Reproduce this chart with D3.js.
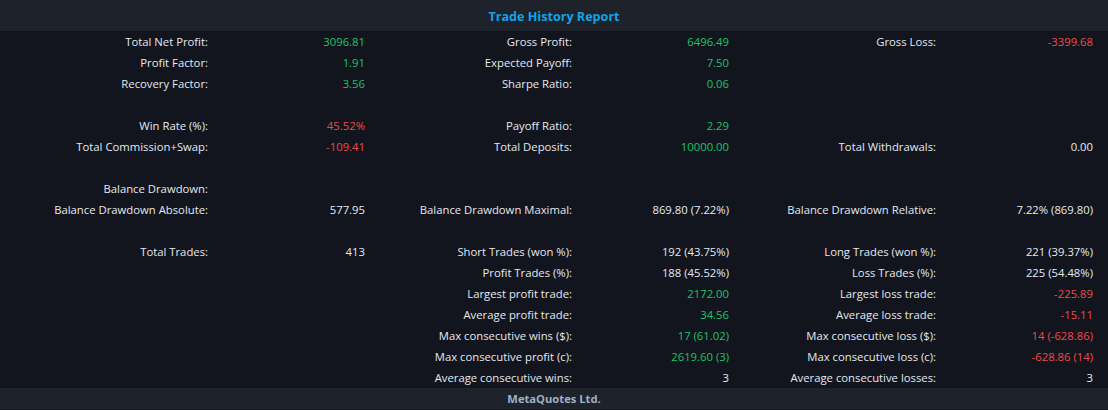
<!DOCTYPE html>
<html>
<head>
<meta charset="utf-8">
<script src="https://cdn.jsdelivr.net/npm/d3@7"></script>
<style>
  html, body { margin: 0; padding: 0; background: #12151d; }
  svg { display: block; }
  text { font-family: "Open Sans", "Noto Sans", sans-serif; }
</style>
</head>
<body>
<svg id="report" width="1108" height="410"></svg>
<script>
/* globals d3 */

const TITLE = 'Trade History Report';
const FOOTER = 'MetaQuotes Ltd.';

// one entry per row, '' = blank row / no value
const col1Labels = ['Total Net Profit:', 'Profit Factor:', 'Recovery Factor:', '', 'Win Rate (%):', 'Total Commission+Swap:', '', 'Balance Drawdown:', 'Balance Drawdown Absolute:', '', 'Total Trades:', '', '', '', '', '', ''];
const col1Values = ['3096.81', '1.91', '3.56', '', '45.52%', '-109.41', '', '', '577.95', '', '413', '', '', '', '', '', ''];
const col1Tones = ['up', 'up', 'up', '', 'down', 'down', '', '', 'flat', '', 'flat', '', '', '', '', '', ''];

const col2Labels = ['Gross Profit:', 'Expected Payoff:', 'Sharpe Ratio:', '', 'Payoff Ratio:', 'Total Deposits:', '', '', 'Balance Drawdown Maximal:', '', 'Short Trades (won %):', 'Profit Trades (%):', 'Largest profit trade:', 'Average profit trade:', 'Max consecutive wins ($):', 'Max consecutive profit (c):', 'Average consecutive wins:'];
const col2Values = ['6496.49', '7.50', '0.06', '', '2.29', '10000.00', '', '', '869.80 (7.22%)', '', '192 (43.75%)', '188 (45.52%)', '2172.00', '34.56', '17 (61.02)', '2619.60 (3)', '3'];
const col2Tones = ['up', 'up', 'up', '', 'up', 'up', '', '', 'flat', '', 'flat', 'flat', 'up', 'up', 'up', 'up', 'flat'];

const col3Labels = ['Gross Loss:', '', '', '', '', 'Total Withdrawals:', '', '', 'Balance Drawdown Relative:', '', 'Long Trades (won %):', 'Loss Trades (%):', 'Largest loss trade:', 'Average loss trade:', 'Max consecutive loss ($):', 'Max consecutive loss (c):', 'Average consecutive losses:'];
const col3Values = ['-3399.68', '', '', '', '', '0.00', '', '', '7.22% (869.80)', '', '221 (39.37%)', '225 (54.48%)', '-225.89', '-15.11', '14 (-628.86)', '-628.86 (14)', '3'];
const col3Tones = ['down', '', '', '', '', 'flat', '', '', 'flat', '', 'flat', 'flat', 'down', 'down', 'down', 'down', 'flat'];

const CONFIG = {
  width: 1108,
  height: 410,
  headerHeight: 31,
  footerTop: 388,
  groupWidth: 364,
  labelWidth: 208,
  valueRight: 365,
  fontSize: 11.3,
  colors: {
    header: '#1d222b',
    body: '#12151d',
    title: '#13a3e6',
    footer: '#9fb0c6',
    label: '#e4e9f0',
    up: '#1fc26c',
    down: '#ec4b4b',
    flat: '#e4e9f0',
  },
};

const draw = ({ width, height, headerHeight, footerTop, groupWidth, labelWidth, valueRight, fontSize, colors }) => {
  const svg = d3.select('#report');

  svg.append('rect').attr('width', width).attr('height', height).attr('fill', colors.body);
  svg.append('rect').attr('width', width).attr('height', headerHeight).attr('fill', colors.header);
  svg.append('rect').attr('y', footerTop).attr('width', width).attr('height', height - footerTop - 1).attr('fill', colors.header);

  svg.append('text')
    .attr('x', width / 2)
    .attr('y', 21)
    .attr('text-anchor', 'middle')
    .attr('font-size', 12.6)
    .attr('font-weight', 700)
    .attr('fill', colors.title)
    .text(TITLE);

  svg.append('text')
    .attr('x', width / 2)
    .attr('y', 403)
    .attr('text-anchor', 'middle')
    .attr('font-size', 11.2)
    .attr('font-weight', 700)
    .attr('fill', colors.footer)
    .text(FOOTER);

  const rowIdx = d3.range(col1Labels.length);
  const y = d3.scaleBand().domain(rowIdx).range([headerHeight, footerTop]);
  const baseline = i => y(i) + y.bandwidth() / 2 + 4.5;

  const columns = [
    { labels: col1Labels, values: col1Values, tones: col1Tones },
    { labels: col2Labels, values: col2Values, tones: col2Tones },
    { labels: col3Labels, values: col3Values, tones: col3Tones },
  ];
  const x = d3.scaleLinear().domain([0, 1]).range([0, groupWidth]);

  const groups = svg.selectAll('.group')
    .data(columns)
    .join('g')
      .attr('class', 'group')
      .attr('transform', (d, i) => `translate(${x(i)},0)`);

  groups.selectAll('.label')
    .data(d => d.labels.map((label, i) => ({ label, i })).filter(r => r.label))
    .join('text')
      .attr('class', 'label')
      .attr('x', labelWidth)
      .attr('y', r => baseline(r.i))
      .attr('text-anchor', 'end')
      .attr('font-size', fontSize)
      .attr('fill', colors.label)
      .text(r => r.label);

  groups.selectAll('.value')
    .data(d => d.values.map((value, i) => ({ value, tone: d.tones[i], i })).filter(r => r.value))
    .join('text')
      .attr('class', 'value')
      .attr('x', valueRight)
      .attr('y', r => baseline(r.i))
      .attr('text-anchor', 'end')
      .attr('font-size', fontSize)
      .attr('fill', r => colors[r.tone])
      .text(r => r.value);
};

draw(CONFIG);
</script>
</body>
</html>
